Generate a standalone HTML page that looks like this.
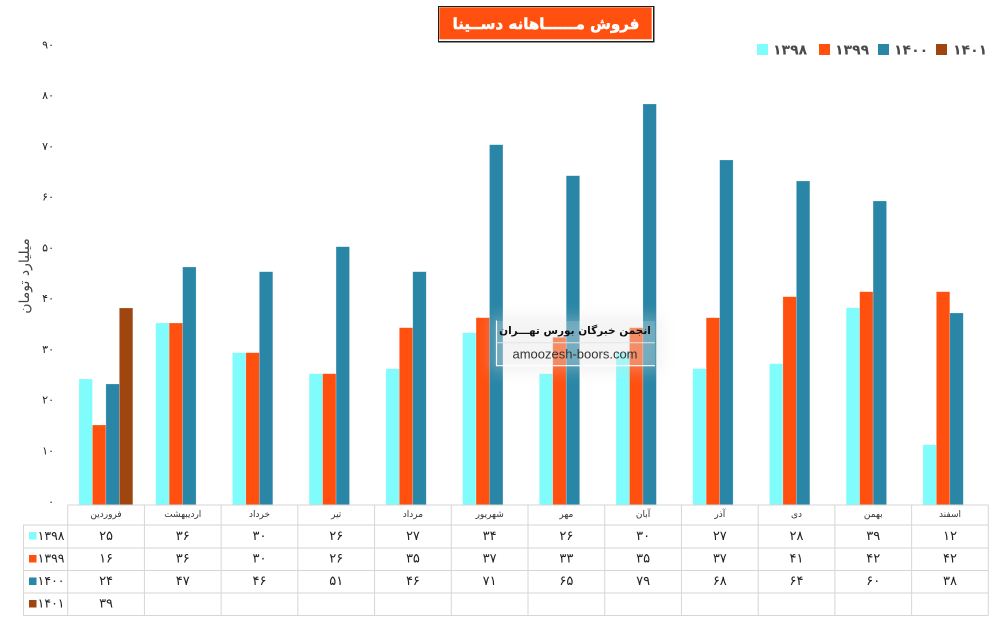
<!DOCTYPE html>
<html>
<head>
<meta charset="utf-8">
<style>
html,body{margin:0;padding:0;background:#fff;}
svg{display:block;}
.fa{font-family:"DejaVu Sans","Liberation Sans",sans-serif;}
</style>
</head>
<body>
<svg width="998" height="638" viewBox="0 0 998 638" xmlns="http://www.w3.org/2000/svg">
<defs>
<filter id="blur" x="-30%" y="-50%" width="160%" height="200%"><feGaussianBlur stdDeviation="7"/></filter>
</defs>
<rect width="998" height="638" fill="#fff"/>

<!-- Title -->
<rect x="438" y="6" width="216.5" height="36.5" fill="#1e1e1e"/>
<rect x="439" y="7" width="214" height="34" fill="#fff"/>
<rect x="439.3" y="7.3" width="212.4" height="32" fill="#FF5010"/>
<text class="fa" x="546" y="29" font-size="15" font-weight="bold" fill="#fff" stroke="#fff" stroke-width="0.5" text-anchor="middle" direction="rtl">فروش مــــــاهانه دســینا</text>

<!-- Legend -->
<g class="fa" font-size="14" font-weight="bold" fill="#4a4a4a">
<rect x="757" y="44" width="11" height="11" fill="#80FCFC"/>
<text x="773" y="54.5">۱۳۹۸</text>
<rect x="819" y="44" width="11" height="11" fill="#FF5010"/>
<text x="835" y="54.5">۱۳۹۹</text>
<rect x="878" y="44" width="11" height="11" fill="#2986A6"/>
<text x="894" y="54.5">۱۴۰۰</text>
<rect x="936" y="44" width="11" height="11" fill="#9E4510"/>
<text x="953" y="54.5">۱۴۰۱</text>
</g>

<!-- Y axis labels -->
<g class="fa" font-size="11" fill="#222" text-anchor="end">
<text x="54" y="48.5">۹۰</text>
<text x="54" y="99.2">۸۰</text>
<text x="54" y="150">۷۰</text>
<text x="54" y="200.7">۶۰</text>
<text x="54" y="251.5">۵۰</text>
<text x="54" y="302.2">۴۰</text>
<text x="54" y="353">۳۰</text>
<text x="54" y="403.7">۲۰</text>
<text x="54" y="454.5">۱۰</text>
<text x="54" y="505.5">۰</text>
</g>

<!-- Y axis title -->
<text class="fa" transform="translate(29,276) rotate(-90)" font-size="14" fill="#444" text-anchor="middle" direction="rtl">میلیارد تومان</text>

<!-- Bars -->
<g stroke="#ffffff" stroke-opacity="0.35" stroke-width="0.6">
<g fill="#80FCFC">
<rect x="79.0" y="379" width="13.45" height="126"/>
<rect x="155.72" y="323" width="13.45" height="182"/>
<rect x="232.44" y="352.7" width="13.45" height="152.3"/>
<rect x="309.16" y="373.7" width="13.45" height="131.3"/>
<rect x="385.88" y="368.7" width="13.45" height="136.3"/>
<rect x="462.6" y="332.7" width="13.45" height="172.3"/>
<rect x="539.32" y="373.7" width="13.45" height="131.3"/>
<rect x="616.04" y="352.7" width="13.45" height="152.3"/>
<rect x="692.76" y="368.7" width="13.45" height="136.3"/>
<rect x="769.48" y="363.7" width="13.45" height="141.3"/>
<rect x="846.2" y="307.7" width="13.45" height="197.3"/>
<rect x="922.92" y="444.7" width="13.45" height="60.3"/>
</g>
<g fill="#FF5010">
<rect x="92.45" y="425" width="13.45" height="80"/>
<rect x="169.17" y="323" width="13.45" height="182"/>
<rect x="245.89" y="352.7" width="13.45" height="152.3"/>
<rect x="322.61" y="373.7" width="13.45" height="131.3"/>
<rect x="399.33" y="327.7" width="13.45" height="177.3"/>
<rect x="476.05" y="317.7" width="13.45" height="187.3"/>
<rect x="552.77" y="337.3" width="13.45" height="167.7"/>
<rect x="629.49" y="327.7" width="13.45" height="177.3"/>
<rect x="706.21" y="317.7" width="13.45" height="187.3"/>
<rect x="782.93" y="296.7" width="13.45" height="208.3"/>
<rect x="859.65" y="291.7" width="13.45" height="213.3"/>
<rect x="936.37" y="291.7" width="13.45" height="213.3"/>
</g>
<g fill="#2986A6">
<rect x="105.9" y="384" width="13.45" height="121"/>
<rect x="182.62" y="267" width="13.45" height="238"/>
<rect x="259.34" y="271.7" width="13.45" height="233.3"/>
<rect x="336.06" y="246.7" width="13.45" height="258.3"/>
<rect x="412.78" y="271.7" width="13.45" height="233.3"/>
<rect x="489.5" y="144.7" width="13.45" height="360.3"/>
<rect x="566.22" y="175.7" width="13.45" height="329.3"/>
<rect x="642.94" y="104" width="13.45" height="401"/>
<rect x="719.66" y="160" width="13.45" height="345"/>
<rect x="796.38" y="181" width="13.45" height="324"/>
<rect x="873.1" y="201" width="13.45" height="304"/>
<rect x="949.82" y="313" width="13.45" height="192"/>
</g>
<rect x="119.35" y="308" width="13.45" height="197" fill="#9E4510"/>
</g>

<!-- Watermark -->
<rect x="490" y="316" width="172" height="56" fill="#d8d8d8" opacity="0.3" filter="url(#blur)"/>
<rect x="497" y="321" width="158" height="45" fill="#ffffff" opacity="0.15"/>
<line x1="496.5" y1="320.5" x2="496.5" y2="366" stroke="#fff" stroke-width="1.2"/>
<line x1="496" y1="342.7" x2="655" y2="342.7" stroke="#e4e4e4" stroke-width="1"/>
<line x1="496" y1="365.7" x2="655" y2="365.7" stroke="#fff" stroke-width="1.2"/>
<text class="fa" x="575" y="334" font-size="10.5" font-weight="bold" fill="#111" text-anchor="middle" direction="rtl">انجمن خبرگان بورس تهـــران</text>
<text x="575" y="358.5" font-family="Liberation Sans, sans-serif" font-size="13" fill="#333" text-anchor="middle">amoozesh-boors.com</text>

<!-- Table grid -->
<g stroke="#d6d6d6" stroke-width="1" fill="none">
<line x1="67.7" y1="505" x2="988.3" y2="505"/>
<line x1="23" y1="525" x2="988.3" y2="525"/>
<line x1="23" y1="548" x2="988.3" y2="548"/>
<line x1="23" y1="570.5" x2="988.3" y2="570.5"/>
<line x1="23" y1="593" x2="988.3" y2="593"/>
<line x1="23" y1="615.5" x2="988.3" y2="615.5"/>
<line x1="23.5" y1="525" x2="23.5" y2="615.5"/>
<line x1="67.7" y1="505" x2="67.7" y2="615.5"/>
<line x1="144.42" y1="505" x2="144.42" y2="615.5"/>
<line x1="221.14" y1="505" x2="221.14" y2="615.5"/>
<line x1="297.86" y1="505" x2="297.86" y2="615.5"/>
<line x1="374.58" y1="505" x2="374.58" y2="615.5"/>
<line x1="451.3" y1="505" x2="451.3" y2="615.5"/>
<line x1="528.02" y1="505" x2="528.02" y2="615.5"/>
<line x1="604.74" y1="505" x2="604.74" y2="615.5"/>
<line x1="681.46" y1="505" x2="681.46" y2="615.5"/>
<line x1="758.18" y1="505" x2="758.18" y2="615.5"/>
<line x1="834.9" y1="505" x2="834.9" y2="615.5"/>
<line x1="911.62" y1="505" x2="911.62" y2="615.5"/>
<line x1="988.3" y1="505" x2="988.3" y2="615.5"/>
</g>

<!-- Month headers -->
<g class="fa" font-size="9" fill="#333" text-anchor="middle" direction="rtl">
<text x="106.06" y="517">فروردین</text>
<text x="182.78" y="517">اردیبهشت</text>
<text x="259.5" y="517">خرداد</text>
<text x="336.22" y="517">تیر</text>
<text x="412.94" y="517">مرداد</text>
<text x="489.66" y="517">شهریور</text>
<text x="566.38" y="517">مهر</text>
<text x="643.1" y="517">آبان</text>
<text x="719.82" y="517">آذر</text>
<text x="796.54" y="517">دی</text>
<text x="873.26" y="517">بهمن</text>
<text x="949.98" y="517">اسفند</text>
</g>

<!-- Table legend column -->
<rect x="29" y="532" width="7.5" height="7.5" fill="#80FCFC"/>
<rect x="29" y="555" width="7.5" height="7.5" fill="#FF5010"/>
<rect x="29" y="577.5" width="7.5" height="7.5" fill="#2986A6"/>
<rect x="29" y="600" width="7.5" height="7.5" fill="#9E4510"/>
<g class="fa" font-size="12.5" fill="#222" text-anchor="end">
<text x="64.5" y="540">۱۳۹۸</text>
<text x="64.5" y="562.5">۱۳۹۹</text>
<text x="64.5" y="585">۱۴۰۰</text>
<text x="64.5" y="607.5">۱۴۰۱</text>
</g>

<!-- Table values -->
<g class="fa" font-size="13" fill="#222" text-anchor="middle">
<text x="106.06" y="540">۲۵</text>
<text x="182.78" y="540">۳۶</text>
<text x="259.5" y="540">۳۰</text>
<text x="336.22" y="540">۲۶</text>
<text x="412.94" y="540">۲۷</text>
<text x="489.66" y="540">۳۴</text>
<text x="566.38" y="540">۲۶</text>
<text x="643.1" y="540">۳۰</text>
<text x="719.82" y="540">۲۷</text>
<text x="796.54" y="540">۲۸</text>
<text x="873.26" y="540">۳۹</text>
<text x="949.98" y="540">۱۲</text>

<text x="106.06" y="562.5">۱۶</text>
<text x="182.78" y="562.5">۳۶</text>
<text x="259.5" y="562.5">۳۰</text>
<text x="336.22" y="562.5">۲۶</text>
<text x="412.94" y="562.5">۳۵</text>
<text x="489.66" y="562.5">۳۷</text>
<text x="566.38" y="562.5">۳۳</text>
<text x="643.1" y="562.5">۳۵</text>
<text x="719.82" y="562.5">۳۷</text>
<text x="796.54" y="562.5">۴۱</text>
<text x="873.26" y="562.5">۴۲</text>
<text x="949.98" y="562.5">۴۲</text>

<text x="106.06" y="585">۲۴</text>
<text x="182.78" y="585">۴۷</text>
<text x="259.5" y="585">۴۶</text>
<text x="336.22" y="585">۵۱</text>
<text x="412.94" y="585">۴۶</text>
<text x="489.66" y="585">۷۱</text>
<text x="566.38" y="585">۶۵</text>
<text x="643.1" y="585">۷۹</text>
<text x="719.82" y="585">۶۸</text>
<text x="796.54" y="585">۶۴</text>
<text x="873.26" y="585">۶۰</text>
<text x="949.98" y="585">۳۸</text>

<text x="106.06" y="607.5">۳۹</text>
</g>
</svg>
</body>
</html>
